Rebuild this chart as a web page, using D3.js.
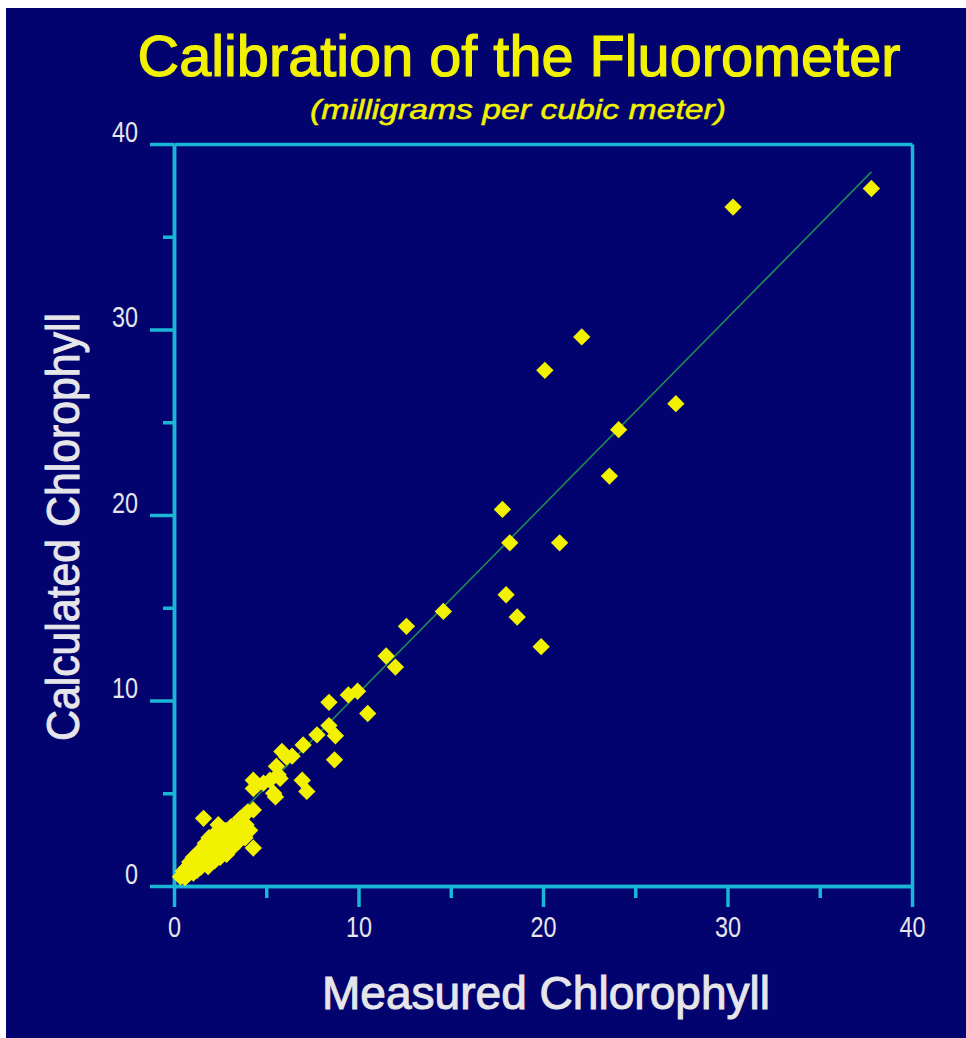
<!DOCTYPE html>
<html>
<head>
<meta charset="utf-8">
<script src="https://cdn.jsdelivr.net/npm/d3@7"></script>
<style>
  html, body { margin: 0; padding: 0; background: #fff; }
  svg { display: block; }
</style>
</head>
<body>
<div id="chart"></div>
<script>
// Measured vs calculated chlorophyll (mg/m³)
const MEASURED = [
  0.35, 0.5, 0.6, 0.7, 0.8, 0.85, 0.95, 1.05, 1.05, 1.15, 1.25, 1.3, 1.35, 1.45,
  1.5, 1.55, 1.65, 1.7, 1.75, 1.85, 1.9, 1.95, 2.0, 2.1, 2.2, 2.2, 2.3, 2.4,
  2.45, 2.5, 2.6, 2.7, 2.8, 2.85, 2.95, 3.05, 3.1, 3.15, 3.25, 3.35, 3.4, 3.5,
  3.6, 3.85, 4.1, 4.3, 1.6, 3.6, 3.85, 4.0, 4.3, 3.9,
  4.3, 4.3, 4.5, 4.85, 5.2, 5.4, 5.5, 5.65, 5.55, 5.75, 5.85, 6.1, 6.4, 6.95,
  7.2, 7.0, 7.75, 8.4, 8.75, 8.7, 8.4, 9.45, 9.95, 10.5, 11.5, 12.0, 12.6, 14.6,
  17.8, 18.2, 20.9, 18.0, 18.6, 19.9, 23.6, 24.1, 27.2, 20.1, 22.1, 30.3, 37.8
];
const CALCULATED = [
  0.5, 0.8, 0.45, 1.0, 0.65, 1.3, 0.9, 0.7, 1.55, 1.15, 0.85, 1.75, 1.35, 1.0,
  2.0, 1.6, 1.25, 2.3, 1.85, 1.05, 2.6, 1.45, 2.15, 1.75, 2.8, 1.35, 2.35, 3.3,
  1.95, 1.55, 2.65, 2.15, 3.0, 1.7, 2.45, 2.9, 3.2, 2.05, 2.6, 3.05, 3.3, 2.4,
  2.75, 2.6, 3.0, 2.05, 3.65, 3.65, 3.85, 4.0, 4.1, 3.3,
  5.25, 5.7, 5.45, 5.55, 5.7, 5.0, 4.8, 6.0, 6.45, 5.8, 7.25, 6.95, 7.0, 5.7,
  5.1, 7.6, 8.15, 8.65, 8.1, 6.8, 9.9, 10.3, 10.5, 9.3, 12.4, 11.8, 14.0, 14.8,
  20.3, 18.5, 18.5, 15.7, 14.5, 12.9, 22.1, 24.6, 26.0, 27.8, 29.6, 36.6, 37.6
];
// regression line end points
const FIT_X = [0.3, 37.8];
const FIT_Y = [0.6, 38.5];

const MAJOR_TICKS = [0, 10, 20, 30, 40];
const MINOR_TICKS = [5, 15, 25, 35];

const W = 966, H = 1038;
const NAVY = "#03036f", CYAN = "#1ab6d6", YELLOW = "#f2f200", LABEL = "#e6e6ea";
const FONT = "'Liberation Sans', Arial, Helvetica, sans-serif";

const svg = d3.select("#chart").append("svg").attr("width", W).attr("height", H);
svg.append("rect").attr("x", 6).attr("y", 8).attr("width", W - 6).attr("height", H - 8).attr("fill", NAVY);

const x = d3.scaleLinear().domain([0, 40]).range([174, 912]);
const y = d3.scaleLinear().domain([0, 40]).range([886, 144]);

// titles
svg.append("text").attr("x", 519).attr("y", 76).attr("text-anchor", "middle")
  .attr("fill", YELLOW).attr("stroke", YELLOW).attr("stroke-width", 1.2)
  .attr("font-family", FONT).attr("font-size", 58)
  .attr("textLength", 763).attr("lengthAdjust", "spacingAndGlyphs")
  .text("Calibration of the Fluorometer");
svg.append("text").attr("x", 518).attr("y", 119).attr("text-anchor", "middle")
  .attr("fill", YELLOW).attr("stroke", YELLOW).attr("stroke-width", 0.5)
  .attr("font-family", FONT).attr("font-size", 28).attr("font-style", "italic")
  .attr("textLength", 416).attr("lengthAdjust", "spacingAndGlyphs")
  .text("(milligrams per cubic meter)");

// axis labels
svg.append("text").attr("x", 546).attr("y", 1009).attr("text-anchor", "middle")
  .attr("fill", LABEL).attr("stroke", LABEL).attr("stroke-width", 1)
  .attr("font-family", FONT).attr("font-size", 46)
  .attr("textLength", 448).attr("lengthAdjust", "spacingAndGlyphs")
  .text("Measured Chlorophyll");
svg.append("text").attr("transform", "translate(79,527) rotate(-90)").attr("text-anchor", "middle")
  .attr("fill", LABEL).attr("stroke", LABEL).attr("stroke-width", 1)
  .attr("font-family", FONT).attr("font-size", 46)
  .attr("textLength", 428).attr("lengthAdjust", "spacingAndGlyphs")
  .text("Calculated Chlorophyll");

function styleAxis(g) {
  g.attr("color", CYAN).attr("font-family", FONT).attr("font-size", 29);
  g.selectAll("path, line").attr("stroke-width", 3.5);
  g.selectAll("text").attr("fill", LABEL)
    .attr("textLength", function () { return this.textContent.length * 13; })
    .attr("lengthAdjust", "spacingAndGlyphs");
}

// frame (top & right)
svg.append("g").attr("transform", `translate(0,${y(40)})`)
  .call(d3.axisTop(x).tickValues([]).tickSizeOuter(0)).call(styleAxis);
svg.append("g").attr("transform", `translate(${x(40)},0)`)
  .call(d3.axisRight(y).tickValues([]).tickSizeOuter(0)).call(styleAxis);

// minor ticks
svg.append("g").attr("transform", `translate(0,${y(0)})`)
  .call(d3.axisBottom(x).tickValues(MINOR_TICKS).tickSize(12).tickSizeOuter(0).tickFormat(""))
  .call(styleAxis);
svg.append("g").attr("transform", `translate(${x(0)},0)`)
  .call(d3.axisLeft(y).tickValues(MINOR_TICKS).tickSize(11).tickSizeOuter(0).tickFormat(""))
  .call(styleAxis);

// major ticks + labels
svg.append("g").attr("transform", `translate(0,${y(0)})`)
  .call(d3.axisBottom(x).tickValues(MAJOR_TICKS).tickSize(21).tickSizeOuter(0).tickPadding(9))
  .call(styleAxis);
svg.append("g").attr("transform", `translate(${x(0)},0)`)
  .call(d3.axisLeft(y).tickValues(MAJOR_TICKS).tickSize(24).tickSizeOuter(0).tickPadding(12))
  .call(styleAxis)
  .call(g => g.selectAll("text").attr("y", -12));

// fitted line
const fit = FIT_X.map((v, i) => [v, FIT_Y[i]]);
svg.append("path").datum(fit)
  .attr("d", d3.line().x(d => x(d[0])).y(d => y(d[1])))
  .attr("fill", "none").attr("stroke", "#1c8c52").attr("stroke-width", 1.6);

// points
const pts = MEASURED.map((m, i) => ({ m, c: CALCULATED[i] }));
const diamond = d3.symbol().type(d3.symbolSquare).size(150);
svg.append("g").selectAll("path").data(pts).join("path")
  .attr("d", diamond)
  .attr("transform", d => `translate(${x(d.m)},${y(d.c)}) rotate(45)`)
  .attr("fill", YELLOW);
</script>
</body>
</html>
